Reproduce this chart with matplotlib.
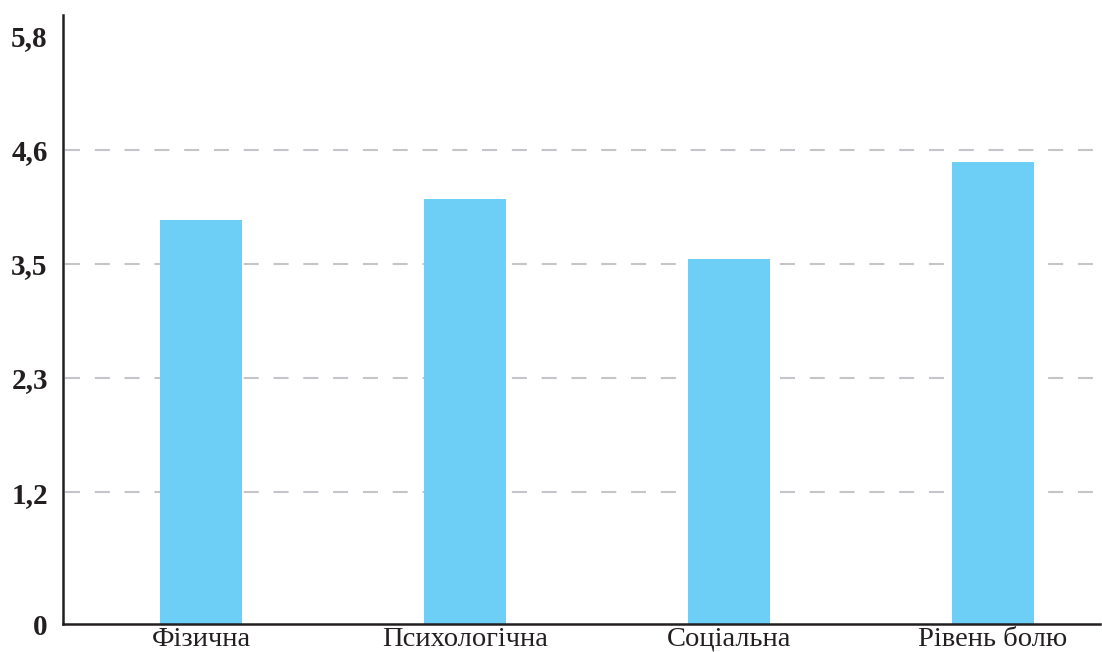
import numpy as np
import matplotlib
matplotlib.use('Agg')
import matplotlib.pyplot as plt

# data
categories = ['Фізична', 'Психологічна', 'Соціальна', 'Рівень болю']
values = [3.89, 4.10, 3.50, 4.48]
tick_vals = [1.15, 2.3, 3.45, 4.6, 5.75]
tick_labels = ['1,2', '2,3', '3,5', '4,6', '5,8']

floor = -0.18   # the axis floor sits a bit under the gridline scale zero

plt.rcParams['font.family'] = ['Liberation Serif', 'DejaVu Serif']

fig = plt.figure(figsize=(11.02, 6.52), dpi=100)
ax = fig.add_axes([0.0572, 0.0429, 0.9408, 0.9341])

x = np.arange(len(categories))
vals = np.array(values)
ax.bar(x, vals - floor, bottom=floor, width=0.31, color='#6dcff6', zorder=2)

ax.set_xlim(-0.523, 3.405)
ax.set_ylim(floor, 5.96)

for t in tick_vals[:-1]:
    ax.axhline(t, xmin=0.002, color='#c4c4c9', lw=1.5, dashes=(7.2, 7.1), zorder=1)

ax.set_yticks([floor] + tick_vals)
ax.set_yticklabels(['0'] + tick_labels, fontsize=21, fontweight='bold', color='#231f20')
ax.set_xticks(x)
ax.set_xticklabels(categories, fontsize=20.5, color='#231f20')
ax.tick_params(axis='y', length=0, pad=11)
ax.tick_params(axis='x', length=0, pad=2)

for s in ['top', 'right']:
    ax.spines[s].set_visible(False)
ax.spines['left'].set_linewidth(1.8)
ax.spines['bottom'].set_linewidth(1.8)
ax.spines['left'].set_color('#231f20')
ax.spines['bottom'].set_color('#231f20')

fig.savefig('out.png', dpi=100)
